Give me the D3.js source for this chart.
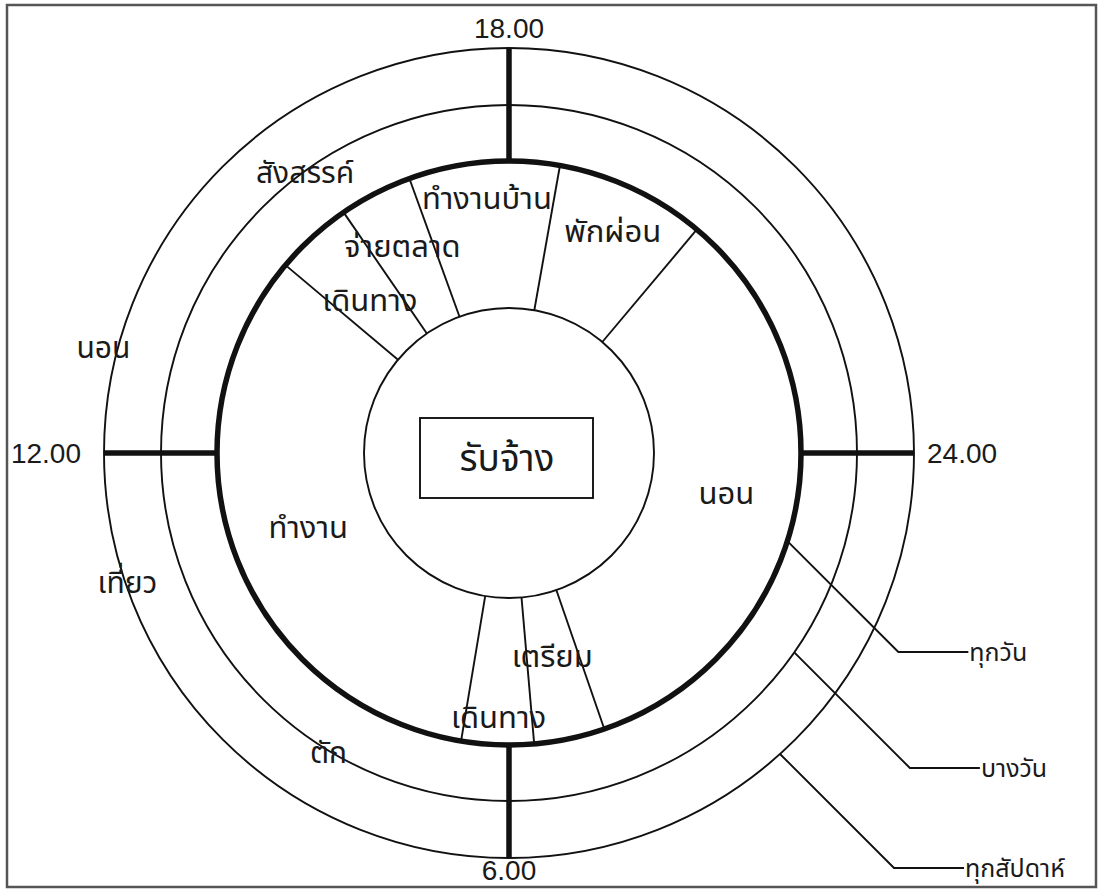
<!DOCTYPE html>
<html lang="th">
<head>
<meta charset="UTF-8">
<title>รับจ้าง - daily cycle</title>
<script src="https://d3js.org/d3.v7.min.js"></script>
<style>
  body, html { margin: 0; padding: 0; background: #fff; overflow: hidden; }
  .thai { font-family: "Noto Sans Thai", "Noto Sans Thai Looped", "Loma", "Garuda", "Noto Sans", sans-serif; fill: #1a1a1a; }
  .time { font-family: "Liberation Sans", Arial, sans-serif; font-size: 28px; fill: #1a1a1a; }
</style>
</head>
<body>
<svg id="chart" width="1099" height="891"></svg>
<script>
// hour ticks on the outer rings
const clockHours = [18, 24, 6, 12];
const clockLabels = ["18.00", "24.00", "6.00", "12.00"];

// daily activities (inner ring), start / end in hours
const dayActivities = ["ทำงานบ้าน", "พักผ่อน", "นอน", "เตรียม", "เดินทาง", "ทำงาน", "เดินทาง", "จ่ายตลาด"];
const dayStart = [16.67, 18.67, 20.67, 4.73, 5.67, 6.63, 14.67, 15.7];
const dayEnd   = [18.67, 20.67, 4.73, 5.67, 6.63, 14.67, 15.7, 16.67];

// some-day / weekly activities on the outer rings
const otherActivities = ["สังสรรค์", "นอน", "เที่ยว", "ตัก"];
const otherHours = [15.6, 12.97, 10.75, 8.07];

// legend
const legendLabels = ["ทุกวัน", "บางวัน", "ทุกสัปดาห์"];
const legendHours = [1.17, 2.33, 3.2];

const centerLabel = "รับจ้าง";

// ---- layout ----
const svg = d3.select("#chart");
const cx = 509, cy = 453;
const rInner = 145, rDay = 292, rSome = 348, rWeek = 405;
const innerLabelR = [256, 245, 221, 208, 264, 214, 207, 233];
const otherLabelR = [347, 419, 403, 350];
const legendY = [652, 768, 868];
const legendRing = [rDay, rSome, rWeek];

const angle = d3.scaleLinear().domain([18, 42]).range([0, 2 * Math.PI]);
const a = h => angle(h < 18 ? h + 24 : h);
const px = (h, r) => cx + r * Math.sin(a(h));
const py = (h, r) => cy - r * Math.cos(a(h));

// frame
svg.append("rect")
  .attr("x", 7).attr("y", 5).attr("width", 1089).attr("height", 882)
  .attr("fill", "none").attr("stroke", "#555").attr("stroke-width", 2.5);

const g = svg.append("g");

// rings
g.selectAll("circle.ring")
  .data([rInner, rSome, rWeek])
  .join("circle")
  .attr("class", "ring")
  .attr("cx", cx).attr("cy", cy).attr("r", d => d)
  .attr("fill", "none").attr("stroke", "#111").attr("stroke-width", 1.9);

g.append("circle")
  .attr("cx", cx).attr("cy", cy).attr("r", rDay)
  .attr("fill", "none").attr("stroke", "#111").attr("stroke-width", 5.5);

// radial dividers of the inner ring
g.selectAll("line.div")
  .data(dayStart)
  .join("line")
  .attr("class", "div")
  .attr("x1", d => px(d, rInner)).attr("y1", d => py(d, rInner))
  .attr("x2", d => px(d, rDay)).attr("y2", d => py(d, rDay))
  .attr("stroke", "#111").attr("stroke-width", 1.9);

// thick hour lines
g.selectAll("line.hour")
  .data(clockHours)
  .join("line")
  .attr("class", "hour")
  .attr("x1", d => px(d, rDay)).attr("y1", d => py(d, rDay))
  .attr("x2", d => px(d, rWeek)).attr("y2", d => py(d, rWeek))
  .attr("stroke", "#111").attr("stroke-width", 5.5);

// hour labels
const timeAnchor = ["middle", "start", "middle", "end"];
const timeR = [425, 418, 417, 428];
g.selectAll("text.time")
  .data(clockHours)
  .join("text")
  .attr("class", "time")
  .attr("x", (d, i) => px(d, timeR[i]))
  .attr("y", (d, i) => py(d, timeR[i]))
  .attr("dy", "0.36em")
  .attr("text-anchor", (d, i) => timeAnchor[i])
  .text((d, i) => clockLabels[i]);

// daily activity labels at segment midpoints
g.selectAll("text.day")
  .data(dayActivities)
  .join("text")
  .attr("class", "thai")
  .attr("font-size", 31)
  .attr("text-anchor", "middle")
  .attr("dy", "0.35em")
  .attr("x", (d, i) => {
    let e = dayEnd[i] < dayStart[i] ? dayEnd[i] + 24 : dayEnd[i];
    return px((dayStart[i] + e) / 2 % 24, innerLabelR[i]);
  })
  .attr("y", (d, i) => {
    let e = dayEnd[i] < dayStart[i] ? dayEnd[i] + 24 : dayEnd[i];
    return py((dayStart[i] + e) / 2 % 24, innerLabelR[i]);
  })
  .text(d => d);

// outer ring labels
g.selectAll("text.other")
  .data(otherActivities)
  .join("text")
  .attr("class", "thai")
  .attr("font-size", 30)
  .attr("text-anchor", "middle")
  .attr("dy", "0.35em")
  .attr("x", (d, i) => px(otherHours[i], otherLabelR[i]))
  .attr("y", (d, i) => py(otherHours[i], otherLabelR[i]))
  .text(d => d);

// center box
g.append("rect")
  .attr("x", 420).attr("y", 418).attr("width", 173).attr("height", 80)
  .attr("fill", "#fff").attr("stroke", "#111").attr("stroke-width", 1.9);
g.append("text")
  .attr("class", "thai")
  .attr("x", 507).attr("y", 458)
  .attr("dy", "0.35em")
  .attr("text-anchor", "middle")
  .attr("font-size", 37)
  .text(centerLabel);

// legend leaders
legendLabels.forEach((lab, i) => {
  const x0 = px(legendHours[i], legendRing[i]);
  const y0 = py(legendHours[i], legendRing[i]);
  const x1 = x0 + (legendY[i] - y0);
  const x2 = x1 + 70;
  g.append("polyline")
    .attr("points", [[x0, y0], [x1, legendY[i]], [x2, legendY[i]]].map(p => p.join(",")).join(" "))
    .attr("fill", "none").attr("stroke", "#111").attr("stroke-width", 1.9);
  g.append("text")
    .attr("class", "thai")
    .attr("font-size", 25)
    .attr("x", x2 + 1).attr("y", legendY[i])
    .attr("dy", "0.35em")
    .text(lab);
});
</script>
</body>
</html>
